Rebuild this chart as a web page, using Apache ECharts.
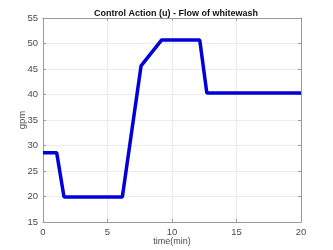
<!DOCTYPE html>
<html><head><meta charset="utf-8">
<script src="https://cdn.jsdelivr.net/npm/echarts@6/dist/echarts.min.js"></script>
<style>html,body{margin:0;padding:0;background:#fff}#c{width:333px;height:250px}</style>
</head><body><div id="c"></div>
<script>
const timeMin = [0, 1.06, 1.63, 6.15, 7.6, 9.2, 12.15, 12.7, 20];
const flowGpm = [28.6, 28.6, 19.9, 19.9, 45.6, 50.7, 50.7, 40.3, 40.3];
const xTicks = [0, 5, 10, 15, 20];
const yTicks = [15, 20, 25, 30, 35, 40, 45, 50, 55];
const titleText = 'Control Action (u) - Flow of whitewash';
const xLabel = 'time(min)';
const yLabel = 'gpm';

const font = 'Liberation Sans, Arial, sans-serif';
const axisCol = '#4a4a4a';
const chart = echarts.init(document.getElementById('c'));
const common = {
  axisLine: {show: true, onZero: false, lineStyle: {color: '#9a9a9a', width: 1}},
  axisTick: {show: true, inside: true, length: 3, lineStyle: {color: '#9a9a9a'}},
  axisLabel: {color: axisCol, fontFamily: font, fontSize: 9.5, margin: 5},
};
chart.setOption({
  animation: false,
  title: {text: titleText, left: 171, top: 4, textAlign: 'center',
    textStyle: {fontFamily: font, fontSize: 9, fontWeight: 'bold', color: '#111'}},
  grid: {left: 43, right: 32, top: 18, bottom: 28, outerBoundsMode: 'none', containLabel: false},
  xAxis: [
    Object.assign({type: 'value', min: xTicks[0], max: xTicks[xTicks.length-1], interval: 5,
      name: xLabel, nameLocation: 'middle', nameGap: 15, nameMoveOverlap: false,
      nameTextStyle: {color: axisCol, fontFamily: font, fontSize: 9},
      splitLine: {show: true, lineStyle: {color: '#ebebeb'}}}, common),
    Object.assign({type: 'value', position: 'top', min: 0, max: 20, interval: 5,
      splitLine: {show: false}}, common, {axisLabel: {show: false}})
  ],
  yAxis: [
    Object.assign({type: 'value', min: yTicks[0], max: yTicks[yTicks.length-1], interval: 5,
      name: yLabel, nameLocation: 'middle', nameGap: 16, nameMoveOverlap: false,
      nameTextStyle: {color: axisCol, fontFamily: font, fontSize: 9.5},
      splitLine: {show: true, lineStyle: {color: '#ebebeb'}}}, common),
    Object.assign({type: 'value', position: 'right', min: 15, max: 55, interval: 5,
      splitLine: {show: false}}, common, {axisLabel: {show: false}})
  ],
  series: [{
    type: 'line', data: timeMin.map((t, i) => [t, flowGpm[i]]),
    showSymbol: false, lineStyle: {color: '#0000d9', width: 3.5}, silent: true
  }]
});
</script></body></html>
